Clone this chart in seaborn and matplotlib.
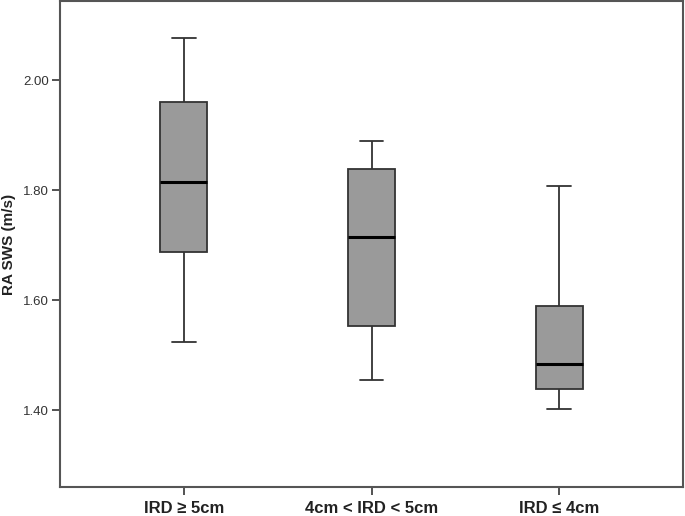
import numpy as np
import pandas as pd
import matplotlib
matplotlib.use("Agg")
import matplotlib.pyplot as plt
import seaborn as sns
from matplotlib.ticker import FormatStrFormatter

# Five-number summaries (min, Q1, median, Q3, max)
categories = ["IRD \u2265 5cm", "4cm < IRD < 5cm", "IRD \u2264 4cm"]
g1_values = [1.523, 1.687, 1.815, 1.961, 2.076]
g2_values = [1.455, 1.553, 1.714, 1.839, 1.889]
g3_values = [1.401, 1.438, 1.483, 1.590, 1.807]
y_ticks = [1.40, 1.60, 1.80, 2.00]

rows = []
for cat, vals in zip(categories, [g1_values, g2_values, g3_values]):
    for v in vals:
        rows.append({"group": cat, "RA SWS (m/s)": v})
df = pd.DataFrame(rows)

sns.set_style("white")
plt.rcParams["font.family"] = ["Liberation Sans", "DejaVu Sans"]

fig = plt.figure(figsize=(6.85, 5.16), dpi=100)
ax = fig.add_axes([60 / 685, 1 - 487 / 516, 623 / 685, 486 / 516])

sns.boxplot(
    data=df, x="group", y="RA SWS (m/s)", order=categories, ax=ax,
    whis=(0, 100), width=0.25, color="#9a9a9a", saturation=1,
    linecolor="#333333", linewidth=1.3, fliersize=0,
    medianprops={"color": "#000000", "linewidth": 2.2},
)
for p in ax.patches:
    p.set_facecolor("#9a9a9a")

ax.set_xlim(-0.66, 2.66)
ax.set_ylim(1.260, 2.144)
ax.set_yticks(y_ticks)
ax.yaxis.set_major_formatter(FormatStrFormatter("%.2f"))

for s in ax.spines.values():
    s.set_color("#555555")
    s.set_linewidth(1.5)
    s.set_visible(True)

ax.tick_params(axis="y", direction="out", length=6, width=1.3, color="#444444",
               labelsize=9.5, labelcolor="#333333", pad=2, left=True)
ax.tick_params(axis="x", direction="out", length=6, width=1.3, color="#444444",
               labelsize=12, labelcolor="#222222", pad=4, bottom=True)
for lab in ax.get_xticklabels():
    lab.set_fontweight("bold")

ax.set_xlabel("")
ax.set_ylabel("RA SWS (m/s)", fontsize=11, fontweight="bold", color="#222222")
ax.yaxis.set_label_coords(-0.070, 0.5)

fig.savefig("out.png", dpi=100, facecolor="white")
